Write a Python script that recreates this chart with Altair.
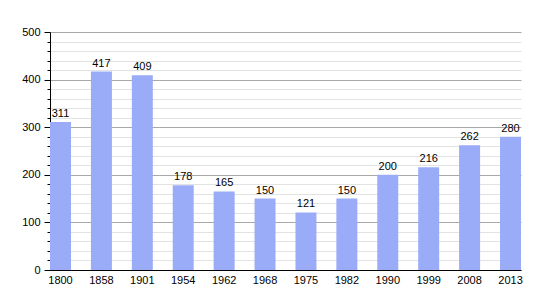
import altair as alt
import pandas as pd

years = ["1800", "1858", "1901", "1954", "1962", "1968", "1975", "1982", "1990", "1999", "2008", "2013"]
population = [311, 417, 409, 178, 165, 150, 121, 150, 200, 216, 262, 280]

df = pd.DataFrame({"year": years, "pop": population})

x = alt.X("year:N", sort=years, title=None,
          scale=alt.Scale(paddingInner=0.487, paddingOuter=0),
          axis=alt.Axis(labelAngle=0, ticks=False, domainColor="black", labelFont="Liberation Sans",
                        labelFontSize=11, labelColor="black", labelPadding=4, grid=False))
y = alt.Y("pop:Q", title=None,
          scale=alt.Scale(domain=[0, 500], nice=False),
          axis=alt.Axis(values=list(range(0, 501, 20)), tickCount=40,
                        labelExpr="datum.value % 100 === 0 ? datum.label : ''",
                        labelOverlap=False,
                        tickSize=alt.condition("datum.value % 100 === 0", alt.value(6), alt.value(3)),
                        tickColor="black", domainColor="black",
                        grid=True,
                        gridColor=alt.condition("datum.value % 100 === 0", alt.value("#a8a8a8"), alt.value("#e2e2e2")),
                        labelFont="Liberation Sans", labelFontSize=11, labelColor="black", labelPadding=4))

bars = alt.Chart(df).mark_bar(color="#9aabf7").encode(x=x, y=y)
text = alt.Chart(df).mark_text(baseline="bottom", dy=-3, font="Liberation Sans", fontSize=11, color="black").encode(
    x=alt.X("year:N", sort=years), y="pop:Q", text="pop:Q")

chart = alt.layer(bars, text).properties(
    width=471, height=238,
    autosize=alt.AutoSizeParams(type="none"),
    padding={"left": 50, "top": 32, "right": 29, "bottom": 30},
).configure_view(stroke=None)

chart.save("out.html", embed_options={"renderer": "svg", "actions": False})
